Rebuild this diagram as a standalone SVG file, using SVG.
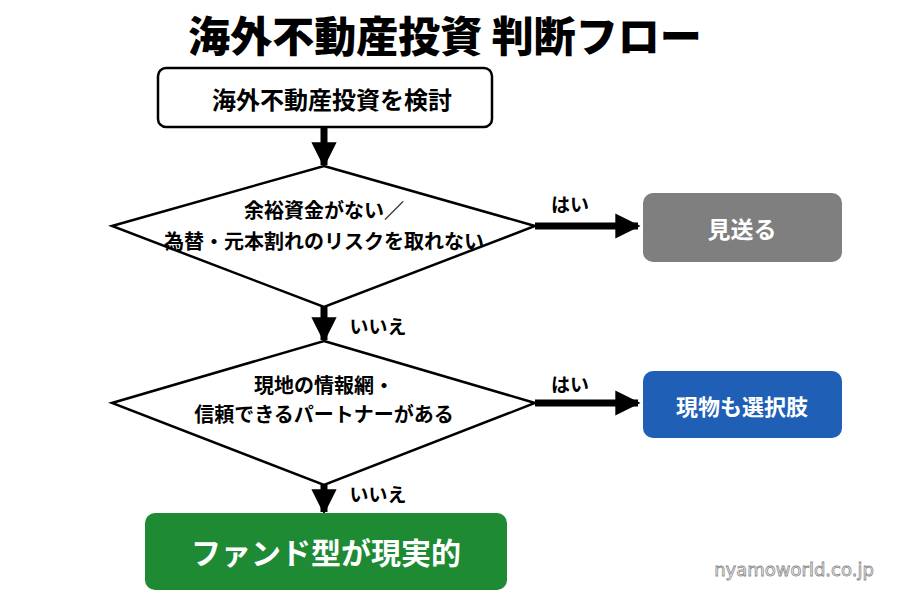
<svg xmlns="http://www.w3.org/2000/svg" width="900" height="600" viewBox="0 0 900 600">
<style>
text{font-family:"Noto Sans CJK JP","Noto Sans",sans-serif;font-weight:bold;text-anchor:middle;dominant-baseline:central}
.ln{stroke:#000;stroke-width:7;fill:none}
.sh{stroke:#000;stroke-width:2.5;fill:#fff}
.lb{font-size:19px;fill:#000}
.q{font-size:20px;fill:#000}
</style>
<defs><marker id="ah" viewBox="0 0 10 10" refX="9" refY="5" markerWidth="3.6" markerHeight="3.6" orient="auto" markerUnits="strokeWidth"><path d="M0,0L10,5L0,10Z" fill="#000"/></marker></defs>
<rect width="900" height="600" fill="#fff"/>
<text x="445" y="33" font-size="42" fill="#000" style="font-weight:900">海外不動産投資 判断フロー</text>
<g id="connectors">
<line class="ln" x1="324" y1="127" x2="324" y2="165" marker-end="url(#ah)"/>
<line class="ln" x1="535" y1="226" x2="638" y2="226" marker-end="url(#ah)"/>
<text class="lb" x="570" y="203">はい</text>
<line class="ln" x1="324" y1="307" x2="324" y2="340" marker-end="url(#ah)"/>
<text class="lb" x="378" y="325">いいえ</text>
<line class="ln" x1="535" y1="403" x2="638" y2="403" marker-end="url(#ah)"/>
<text class="lb" x="570" y="383">はい</text>
<line class="ln" x1="324" y1="485" x2="324" y2="512" marker-end="url(#ah)"/>
<text class="lb" x="378" y="493">いいえ</text>
</g>
<g id="start"><rect class="sh" x="158" y="68" width="334" height="59" rx="8"/><text x="332" y="98" font-size="24">海外不動産投資を検討</text></g>
<g id="q1"><polygon class="sh" points="324,166 535,226 324,307 112,226"/><text class="q" x="324" y="209">余裕資金がない／</text><text class="q" x="324" y="240">為替・元本割れのリスクを取れない</text></g>
<g id="q2"><polygon class="sh" points="324,341 535,403 324,485 112,403"/><text class="q" x="324" y="384">現地の情報網・</text><text class="q" x="324" y="413">信頼できるパートナーがある</text></g>
<g id="skip"><rect x="643" y="193" width="199" height="69" rx="10" fill="#7f7f7f"/><text x="742" y="228" font-size="23" fill="#fff">見送る</text></g>
<g id="real"><rect x="643" y="371" width="199" height="67" rx="10" fill="#1f5fb5"/><text x="742" y="405" font-size="22" fill="#fff">現物も選択肢</text></g>
<g id="fund"><rect x="145" y="513" width="362" height="77" rx="10" fill="#1e8a34"/><text x="326" y="551" font-size="30" fill="#fff">ファンド型が現実的</text></g>
<text x="794" y="569" font-size="18" fill="#fff" stroke="#888" stroke-width="0.8" style="font-family:'DejaVu Sans',sans-serif;font-weight:normal">nyamoworld.co.jp</text>
</svg>
